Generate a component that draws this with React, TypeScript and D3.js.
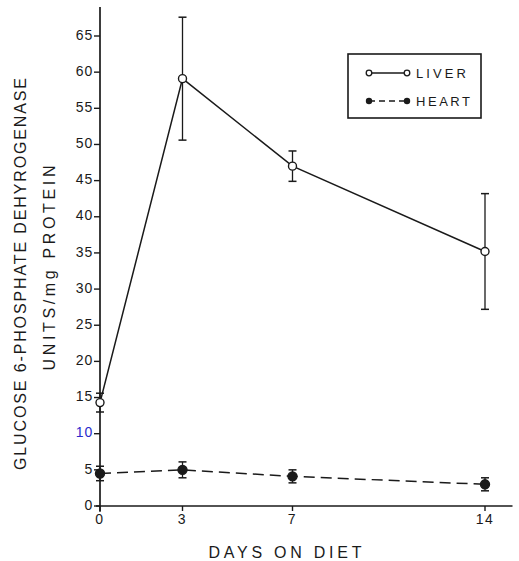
import * as d3 from 'd3';

// Days on diet and enzyme activity (units/mg protein), mean ± error
const days = [0, 3, 7, 14];
const liverMean = [14.3, 59.1, 47.0, 35.2];
const liverErr = [1.3, 8.5, 2.1, 8.0];
const heartMean = [4.5, 5.0, 4.1, 3.0];
const heartErr = [1.0, 1.1, 0.9, 0.9];
const yTickValues = [0, 5, 10, 15, 20, 25, 30, 35, 40, 45, 50, 55, 60, 65];
const xTickValues = [0, 3, 7, 14];

const W = 519;
const H = 561;
const FONT = '"Liberation Sans", Arial, sans-serif';
const INK = '#1a1a1a';

const xScale = d3.scaleLinear().domain([0, 14]).range([100, 485]);
const yScale = d3.scaleLinear().domain([0, 65]).range([506, 36]);

type Pt = { x: number; y: number; e: number };

function Series({ mean, err, dashed, filled }: { mean: number[]; err: number[]; dashed?: boolean; filled?: boolean }) {
  const pts: Pt[] = days.map((d, i) => ({ x: d, y: mean[i], e: err[i] }));
  const line = d3.line<Pt>().x((p) => xScale(p.x)).y((p) => yScale(p.y));
  return (
    <g>
      <path
        d={line(pts) ?? ''}
        fill="none"
        stroke={INK}
        strokeWidth={1.5}
        strokeDasharray={dashed ? '11,6' : undefined}
      />
      {pts.map((p, i) => {
        const cx = xScale(p.x);
        const top = yScale(p.y + p.e);
        const bot = yScale(p.y - p.e);
        return (
          <g key={i}>
            <line x1={cx} x2={cx} y1={top} y2={bot} stroke={INK} strokeWidth={1.3} />
            <line x1={cx - 4} x2={cx + 4} y1={top} y2={top} stroke={INK} strokeWidth={1.5} />
            <line x1={cx - 4} x2={cx + 4} y1={bot} y2={bot} stroke={INK} strokeWidth={1.5} />
            <circle
              cx={cx}
              cy={yScale(p.y)}
              r={filled ? 4.5 : 4}
              fill={filled ? INK : '#fff'}
              stroke={INK}
              strokeWidth={1.4}
            />
          </g>
        );
      })}
    </g>
  );
}

export default function App() {
  const x0 = xScale(0);
  const y0 = yScale(0);
  return (
    <svg
      width={W}
      height={H}
      viewBox={`0 0 ${W} ${H}`}
      style={{ position: 'absolute', left: 0, top: 0, background: '#fff' }}
      fontFamily={FONT}
    >
      <rect x={0} y={0} width={W} height={H} fill="#fff" />

      {/* axes */}
      <line x1={x0} x2={x0} y1={yScale(-0.8)} y2={yScale(69)} stroke={INK} strokeWidth={1.7} />
      <line x1={x0 - 4} x2={xScale(15)} y1={y0} y2={y0} stroke={INK} strokeWidth={1.7} />

      {yTickValues.map((v) => (
        <g key={v}>
          <line x1={x0 - 6} x2={x0} y1={yScale(v)} y2={yScale(v)} stroke={INK} strokeWidth={1.4} />
          <text
            x={x0 - 7}
            y={yScale(v)}
            textAnchor="end"
            dominantBaseline="middle"
            fontSize={14}
            letterSpacing={0.8}
            fill={v === 10 ? '#2a2acc' : INK}
          >
            {v}
          </text>
        </g>
      ))}

      {xTickValues.map((v) => (
        <g key={v}>
          <line x1={xScale(v)} x2={xScale(v)} y1={y0} y2={y0 + 5} stroke={INK} strokeWidth={1.4} />
          <text x={xScale(v)} y={y0 + 18} textAnchor="middle" fontSize={14} letterSpacing={1.5} fill={INK}>
            {v}
          </text>
        </g>
      ))}

      {/* axis titles */}
      <text
        x={285}
        y={558}
        textAnchor="middle"
        fontSize={16}
        textLength={153}
        lengthAdjust="spacing"
        fill={INK}
      >
        DAYS ON DIET
      </text>
      <text
        transform="translate(25.5,274) rotate(-90)"
        textAnchor="middle"
        fontSize={16}
        textLength={392}
        lengthAdjust="spacing"
        fill={INK}
      >
        GLUCOSE 6-PHOSPHATE DEHYROGENASE
      </text>
      <text
        transform="translate(55,268) rotate(-90)"
        textAnchor="middle"
        fontSize={16}
        textLength={205}
        lengthAdjust="spacing"
        fill={INK}
      >
        UNITS/mg PROTEIN
      </text>

      {/* data */}
      <Series mean={heartMean} err={heartErr} dashed filled />
      <Series mean={liverMean} err={liverErr} />

      {/* legend */}
      <rect x={348} y={54} width={133} height={64} fill="#fff" stroke={INK} strokeWidth={1.6} />
      <line x1={369} x2={407} y1={73} y2={73} stroke={INK} strokeWidth={1.5} />
      <circle cx={369} cy={73} r={2.8} fill="#fff" stroke={INK} strokeWidth={1.3} />
      <circle cx={407} cy={73} r={2.8} fill="#fff" stroke={INK} strokeWidth={1.3} />
      <text x={416} y={78} fontSize={13} textLength={50} lengthAdjust="spacing" fill={INK}>
        LIVER
      </text>
      <line x1={369} x2={407} y1={101} y2={101} stroke={INK} strokeWidth={1.5} strokeDasharray="6,4" />
      <circle cx={369} cy={101} r={3.2} fill={INK} />
      <circle cx={407} cy={101} r={3.2} fill={INK} />
      <text x={416} y={106} fontSize={13} textLength={54} lengthAdjust="spacing" fill={INK}>
        HEART
      </text>
    </svg>
  );
}
